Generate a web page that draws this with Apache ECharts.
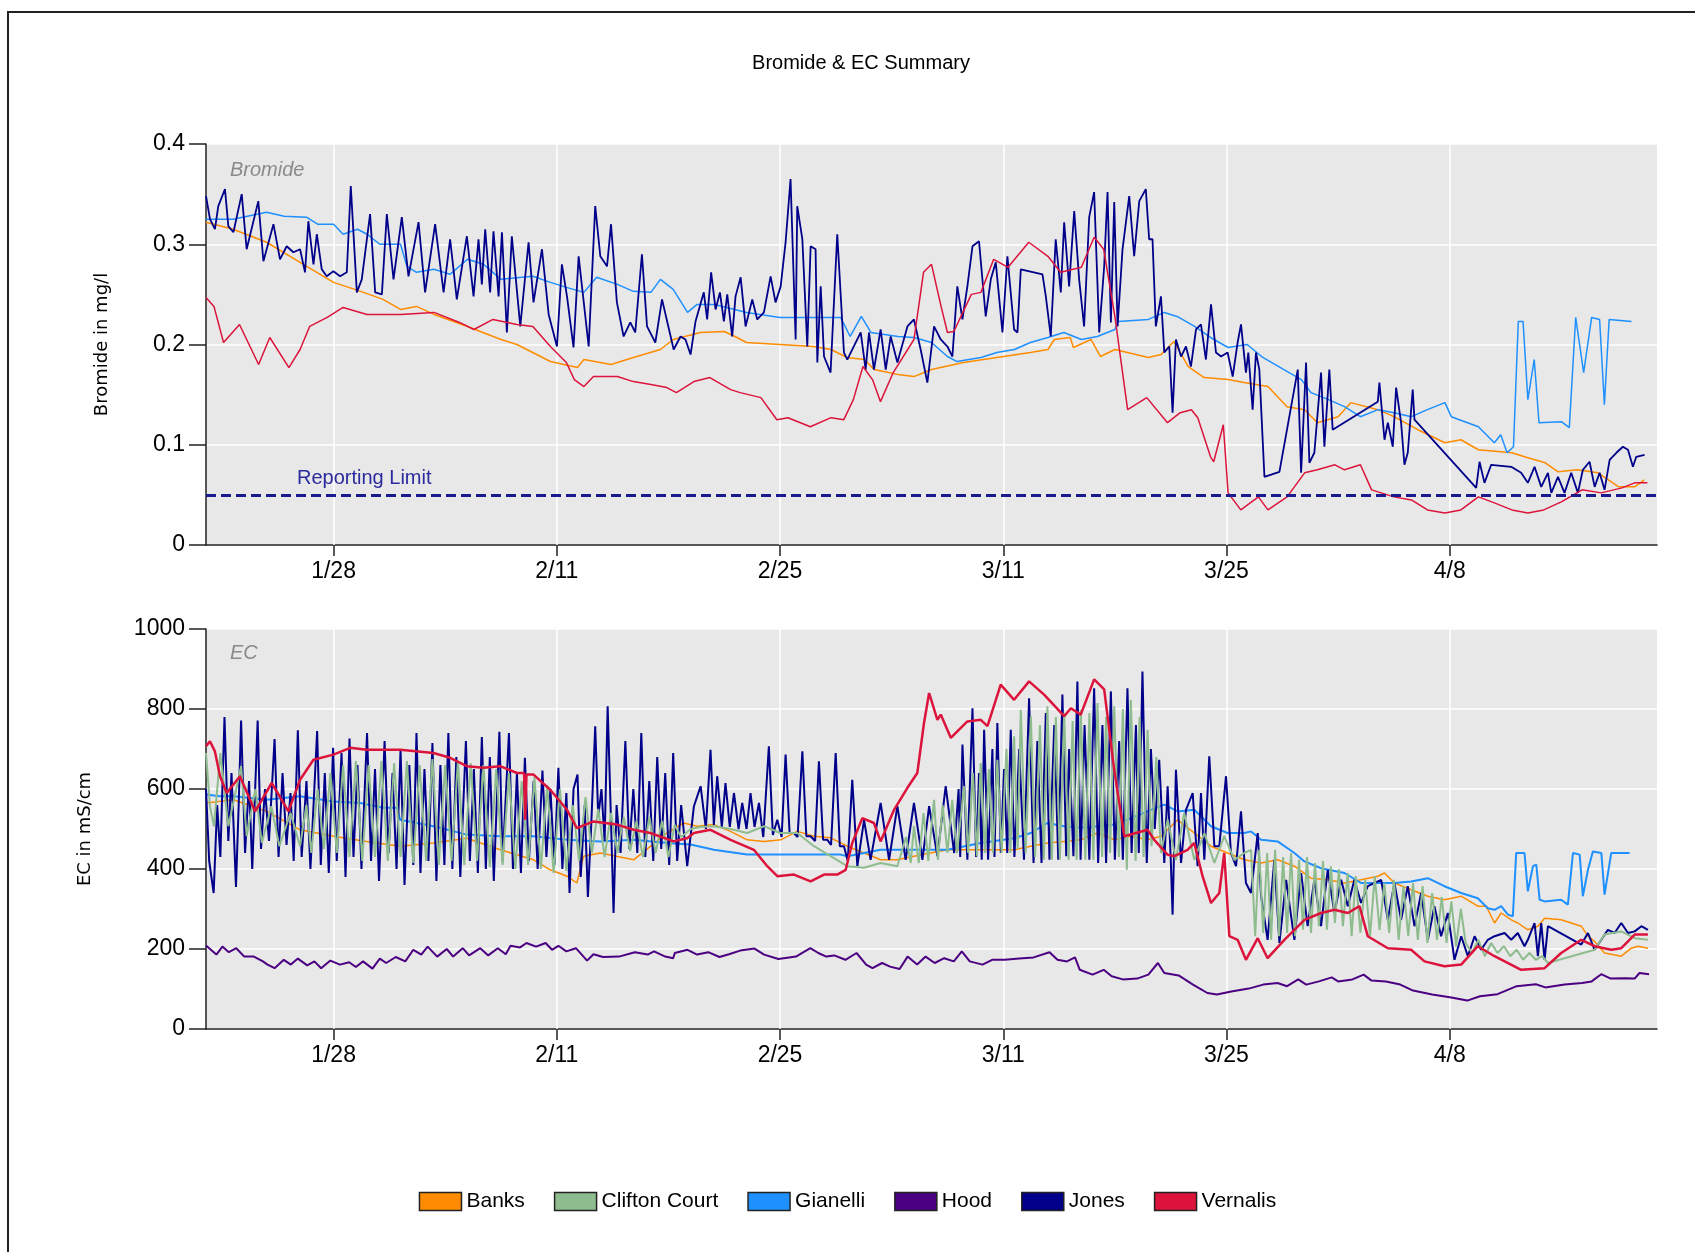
<!DOCTYPE html>
<html>
<head>
<meta charset="utf-8">
<title>Bromide & EC Summary</title>
<script src="https://cdn.jsdelivr.net/npm/echarts@6.0.0/dist/echarts.min.js"></script>
<style>
  html, body { margin: 0; padding: 0; background: #fff; }
  #chart { width: 1695px; height: 1252px; }
</style>
</head>
<body>
<div id="chart"></div>
<script>
const tickDays = [8, 22, 36, 50, 64, 78]
const tickLabels = ['1/28', '2/11', '2/25', '3/11', '3/25', '4/8']
const seriesNames = ['Banks', 'Clifton Court', 'Gianelli', 'Hood', 'Jones', 'Vernalis']
const reportingLimit = 0.05

// ---- Bromide (mg/l) ----
const banksBr = [[0,0.322],[1.7,0.315],[3.8,0.302],[5.9,0.282],[8.0,0.262],[9.7,0.253],[11.1,0.245],[12.2,0.235],[13.2,0.238],[14.3,0.23],[16.4,0.218],[18.5,0.205],[19.5,0.2],[21.6,0.183],[23.3,0.177],[23.7,0.185],[25.4,0.18],[26.8,0.187],[28.5,0.195],[29.3,0.205],[31.0,0.212],[32.5,0.213],[33.3,0.207],[33.9,0.202],[36.0,0.2],[38.1,0.198],[39.2,0.195],[40.2,0.187],[41.3,0.185],[41.9,0.175],[43.4,0.17],[44.4,0.168],[45.5,0.175],[47.5,0.182],[49.6,0.187],[51.7,0.192],[52.8,0.195],[53.2,0.205],[54.2,0.207],[54.4,0.197],[55.5,0.205],[56.1,0.188],[57.0,0.195],[59.1,0.187],[59.9,0.19],[60.7,0.203],[61.6,0.178],[62.6,0.167],[64.1,0.165],[65.1,0.162],[66.6,0.158],[67.8,0.138],[68.9,0.135],[69.7,0.122],[71.0,0.128],[71.8,0.142],[73.5,0.135],[74.5,0.128],[76.0,0.115],[77.7,0.102],[78.7,0.105],[79.8,0.095],[81.9,0.092],[82.9,0.087],[84.0,0.082],[84.8,0.073],[86.0,0.075],[87.3,0.072],[88.6,0.058],[89.6,0.058],[90.2,0.065]]

const gianelliBr = [[0,0.325],[1.7,0.325],[3.8,0.332],[4.9,0.328],[6.3,0.327],[7.0,0.32],[8.0,0.32],[8.6,0.31],[9.5,0.315],[10.1,0.31],[10.9,0.3],[12.2,0.3],[12.6,0.278],[13.2,0.272],[14.3,0.275],[15.3,0.27],[16.4,0.285],[17.4,0.28],[18.5,0.265],[20.5,0.268],[21.6,0.262],[22.6,0.257],[23.7,0.252],[24.5,0.267],[25.8,0.26],[26.8,0.253],[27.9,0.252],[28.5,0.265],[29.3,0.255],[30.2,0.232],[30.8,0.24],[31.9,0.24],[33.9,0.232],[36.0,0.227],[38.1,0.227],[39.8,0.227],[40.4,0.208],[41.1,0.228],[41.7,0.212],[43.4,0.208],[44.4,0.207],[45.5,0.202],[46.5,0.188],[47.1,0.183],[48.6,0.187],[49.6,0.192],[50.7,0.195],[51.7,0.202],[52.8,0.207],[53.8,0.212],[54.9,0.205],[55.9,0.208],[57.0,0.215],[57.2,0.223],[59.1,0.225],[60.1,0.232],[60.9,0.228],[62.0,0.218],[63.0,0.207],[64.1,0.197],[65.3,0.2],[66.2,0.188],[67.6,0.175],[68.7,0.165],[69.3,0.152],[70.4,0.145],[71.4,0.138],[72.4,0.128],[73.5,0.135],[74.5,0.132],[75.6,0.128],[76.6,0.135],[77.7,0.142],[78.1,0.128],[79.8,0.118],[80.8,0.102],[81.2,0.11],[81.6,0.092],[82.0,0.098],[82.3,0.223],[82.6,0.223],[82.9,0.145],[83.3,0.185],[83.6,0.122],[85.0,0.123],[85.5,0.117],[85.9,0.227],[86.4,0.172],[86.9,0.227],[87.4,0.225],[87.7,0.14],[88.0,0.225],[89.4,0.223]]

const vernalisBr = [[0,0.247],[0.5,0.238],[1.1,0.202],[2.1,0.22],[3.3,0.18],[4.0,0.207],[5.2,0.177],[5.9,0.195],[6.5,0.218],[7.6,0.227],[8.6,0.237],[10.1,0.23],[12.2,0.23],[14.3,0.232],[15.9,0.222],[16.8,0.215],[18.0,0.225],[19.5,0.22],[20.5,0.218],[21.6,0.198],[22.6,0.182],[23.1,0.165],[23.7,0.158],[24.3,0.168],[25.8,0.168],[26.8,0.163],[27.9,0.16],[28.9,0.157],[29.5,0.152],[30.6,0.163],[31.6,0.167],[32.9,0.155],[33.5,0.152],[34.8,0.147],[35.8,0.125],[36.5,0.127],[37.9,0.118],[39.2,0.127],[40.0,0.125],[40.6,0.145],[41.2,0.178],[41.8,0.165],[42.3,0.143],[43.1,0.172],[44.4,0.205],[45.0,0.272],[45.5,0.28],[46.1,0.238],[46.5,0.212],[46.9,0.213],[48.0,0.25],[48.6,0.252],[49.4,0.285],[50.3,0.277],[51.6,0.302],[52.8,0.288],[53.6,0.272],[54.9,0.277],[55.7,0.307],[56.3,0.295],[57.0,0.228],[57.8,0.135],[59.0,0.147],[60.3,0.122],[61.1,0.132],[61.8,0.135],[62.2,0.127],[63.0,0.088],[63.2,0.083],[63.8,0.12],[64.1,0.052],[64.9,0.035],[66.0,0.048],[66.6,0.035],[67.8,0.048],[68.9,0.072],[69.7,0.075],[70.8,0.08],[71.4,0.075],[72.4,0.08],[73.1,0.055],[74.5,0.048],[75.6,0.045],[76.6,0.035],[77.7,0.032],[78.7,0.035],[79.8,0.048],[80.8,0.042],[81.9,0.035],[82.9,0.032],[83.9,0.035],[85.0,0.043],[86.3,0.055],[87.5,0.052],[88.8,0.057],[89.6,0.062],[90.4,0.062]]

const jonesBr = [[0,0.348],[0.25,0.325],[0.56,0.315],[0.77,0.338],[1.19,0.355],[1.4,0.318],[1.72,0.312],[2.24,0.35],[2.55,0.295],[3.28,0.343],[3.6,0.283],[4.23,0.32],[4.64,0.285],[5.06,0.298],[5.48,0.292],[5.9,0.295],[6.21,0.272],[6.42,0.323],[6.74,0.28],[6.95,0.31],[7.26,0.275],[7.57,0.268],[7.99,0.273],[8.41,0.268],[8.83,0.272],[9.08,0.358],[9.46,0.252],[9.77,0.265],[10.29,0.33],[10.61,0.252],[11.03,0.25],[11.34,0.33],[11.76,0.265],[12.28,0.327],[12.7,0.268],[13.33,0.322],[13.74,0.252],[14.37,0.32],[14.9,0.252],[15.31,0.305],[15.73,0.245],[16.36,0.308],[16.78,0.248],[17.09,0.305],[17.3,0.26],[17.51,0.315],[17.82,0.252],[18.03,0.313],[18.35,0.248],[18.56,0.312],[18.87,0.212],[19.18,0.308],[19.71,0.218],[20.23,0.302],[20.54,0.242],[21.07,0.295],[21.49,0.23],[22.01,0.198],[22.32,0.28],[22.64,0.248],[23.05,0.197],[23.37,0.288],[24.0,0.198],[24.41,0.338],[24.73,0.288],[25.15,0.278],[25.4,0.32],[25.77,0.242],[26.19,0.208],[26.61,0.222],[26.92,0.212],[27.34,0.29],[27.66,0.218],[28.18,0.202],[28.6,0.245],[29.33,0.195],[29.76,0.208],[30.07,0.205],[30.39,0.19],[30.7,0.223],[31.22,0.252],[31.43,0.225],[31.68,0.272],[31.96,0.235],[32.23,0.252],[32.48,0.223],[32.69,0.25],[33.0,0.208],[33.21,0.248],[33.53,0.267],[33.84,0.218],[34.26,0.245],[34.57,0.225],[34.99,0.232],[35.41,0.268],[35.72,0.242],[36.04,0.258],[36.35,0.302],[36.66,0.365],[36.98,0.205],[37.08,0.338],[37.4,0.305],[37.71,0.198],[37.92,0.298],[38.23,0.295],[38.34,0.182],[38.55,0.258],[38.76,0.188],[39.17,0.172],[39.59,0.31],[40.01,0.192],[40.22,0.185],[41.06,0.212],[41.37,0.175],[41.58,0.212],[41.89,0.175],[42.31,0.215],[42.63,0.175],[42.94,0.208],[43.36,0.182],[43.99,0.218],[44.4,0.225],[44.82,0.195],[45.24,0.162],[45.66,0.218],[46.08,0.205],[46.5,0.198],[46.81,0.188],[47.12,0.258],[47.44,0.225],[47.75,0.258],[48.07,0.298],[48.48,0.303],[48.9,0.228],[49.22,0.265],[49.53,0.282],[49.95,0.212],[50.26,0.288],[50.68,0.215],[50.89,0.212],[51.1,0.275],[52.46,0.27],[52.67,0.248],[52.98,0.208],[53.29,0.305],[53.61,0.252],[53.82,0.322],[54.13,0.258],[54.45,0.333],[54.76,0.265],[55.07,0.218],[55.39,0.327],[55.7,0.352],[56.02,0.212],[56.33,0.278],[56.54,0.352],[56.75,0.222],[56.96,0.342],[57.17,0.218],[57.48,0.295],[57.9,0.348],[58.21,0.288],[58.53,0.343],[58.94,0.355],[59.15,0.305],[59.36,0.305],[59.57,0.218],[59.89,0.248],[60.1,0.192],[60.41,0.198],[60.62,0.132],[60.83,0.205],[61.15,0.188],[61.46,0.198],[61.77,0.178],[62.09,0.215],[62.4,0.22],[62.71,0.185],[63.03,0.24],[63.34,0.192],[63.66,0.188],[64.07,0.192],[64.39,0.168],[64.7,0.202],[64.91,0.22],[65.22,0.172],[65.37,0.192],[65.64,0.135],[65.85,0.192],[66.06,0.175],[66.38,0.068],[67.32,0.073],[68.47,0.175],[68.68,0.072],[68.99,0.182],[69.2,0.082],[69.51,0.092],[69.93,0.172],[70.14,0.098],[70.45,0.175],[70.66,0.115],[73.49,0.143],[73.59,0.162],[73.91,0.105],[74.12,0.122],[74.43,0.098],[74.64,0.157],[74.95,0.122],[75.16,0.08],[75.37,0.092],[75.68,0.155],[75.79,0.125],[79.66,0.057],[79.87,0.083],[80.18,0.062],[80.6,0.08],[81.86,0.078],[82.48,0.072],[82.9,0.062],[83.32,0.078],[83.74,0.058],[84.16,0.072],[84.37,0.052],[84.79,0.068],[85.2,0.052],[85.62,0.072],[86.04,0.052],[86.35,0.075],[86.77,0.083],[87.09,0.058],[87.4,0.072],[87.71,0.055],[88.03,0.085],[88.45,0.092],[88.86,0.098],[89.18,0.095],[89.49,0.078],[89.7,0.088],[90.22,0.09]]

// ---- EC (mS/cm) ----
const banksEc = [[0,565],[1.72,573],[3.81,544],[5.9,498],[7.99,482],[10.08,469],[12.18,457],[14.27,465],[16.36,477],[18.45,448],[20.54,423],[21.59,398],[22.64,382],[23.26,365],[23.68,432],[24.73,440],[26.82,423],[28.91,490],[29.96,515],[30.81,507],[31.85,511],[32.9,494],[33.94,473],[34.99,469],[36.04,473],[37.08,494],[38.13,482],[39.17,478],[40.22,457],[41.27,440],[42.31,423],[43.36,423],[44.4,432],[45.45,440],[46.5,448],[48.59,448],[50.68,448],[51.73,457],[52.77,465],[53.82,469],[54.86,473],[55.91,490],[56.96,473],[58.01,482],[59.05,473],[59.89,482],[60.94,523],[61.98,490],[63.03,457],[64.07,440],[65.12,423],[66.17,415],[67.21,423],[68.26,407],[69.3,377],[70.35,373],[71.4,365],[72.44,373],[73.49,382],[73.91,390],[74.53,365],[75.58,348],[76.63,332],[77.67,323],[78.72,332],[79.76,307],[80.29,307],[80.81,265],[81.23,290],[81.86,273],[82.27,265],[82.9,248],[83.53,257],[83.95,277],[84.99,273],[85.62,265],[86.25,257],[86.67,232],[87.09,219],[87.71,190],[88.76,182],[89.39,202],[89.81,207],[90.43,202]]

const cliftonEc = [[0,690],[0.25,557],[0.5,507],[0.9,690],[1.4,507],[2.2,657],[2.55,482],[3.1,600],[3.5,465],[4.1,557],[4.6,457],[5.3,540],[5.9,457],[6.3,560],[6.6,440],[7.0,600],[7.4,450],[7.8,640],[8.2,440],[8.6,660],[9.0,430],[9.4,670],[9.8,420],[10.2,660],[10.6,430],[11.0,670],[11.4,420],[11.8,665],[12.2,430],[12.6,670],[13.0,415],[13.4,660],[13.8,420],[14.2,675],[14.6,410],[15.0,660],[15.4,420],[15.8,670],[16.2,410],[16.6,665],[17.0,420],[17.4,660],[17.8,405],[18.2,650],[18.6,410],[19.0,640],[19.4,400],[19.8,620],[20.2,410],[20.6,630],[21.0,400],[21.4,610],[21.8,390],[22.2,600],[22.6,395],[23.0,560],[23.4,420],[23.8,580],[24.2,440],[24.6,550],[25.0,430],[25.4,540],[25.8,440],[26.2,530],[26.6,445],[27.0,520],[27.4,430],[27.8,530],[28.2,440],[28.6,520],[29.0,430],[29.4,510],[29.8,480],[30.4,500],[31.0,505],[31.85,507],[32.9,500],[33.94,490],[35.0,507],[36.0,490],[37.08,490],[38.13,457],[39.17,432],[40.22,407],[41.27,403],[42.31,415],[43.36,407],[43.9,480],[44.2,415],[44.4,507],[44.7,415],[45.0,540],[45.3,420],[45.66,573],[45.9,423],[46.2,560],[46.5,440],[46.8,573],[47.1,440],[47.54,607],[47.8,440],[48.1,640],[48.35,432],[48.59,665],[48.85,440],[49.1,650],[49.35,440],[49.63,673],[49.9,440],[50.2,700],[50.45,440],[50.68,732],[50.9,450],[51.1,798],[51.4,440],[51.73,782],[52.0,430],[52.3,760],[52.55,423],[52.77,807],[53.05,423],[53.3,780],[53.55,423],[53.82,790],[54.1,423],[54.35,770],[54.6,423],[54.86,798],[55.15,423],[55.4,790],[55.65,423],[55.91,815],[56.2,430],[56.45,780],[56.7,440],[56.96,807],[57.25,430],[57.5,800],[57.75,398],[58.0,823],[58.3,420],[58.55,780],[58.8,430],[59.05,748],[59.3,457],[59.6,680],[59.89,440],[60.31,523],[60.83,423],[61.35,540],[61.98,423],[62.61,490],[63.24,415],[63.86,482],[64.49,423],[65.12,440],[65.54,448],[65.8,232],[66.05,448],[66.3,240],[66.55,440],[66.8,223],[67.05,448],[67.3,232],[67.55,430],[67.8,240],[68.05,440],[68.3,232],[68.55,423],[68.8,248],[69.05,430],[69.3,240],[69.55,415],[69.8,257],[70.05,420],[70.3,248],[70.55,407],[70.8,265],[71.05,400],[71.3,257],[71.6,390],[71.85,232],[72.1,382],[72.4,240],[72.7,373],[73.0,232],[73.3,382],[73.6,248],[73.9,365],[74.2,240],[74.5,373],[74.8,223],[75.1,357],[75.4,232],[75.7,365],[76.0,223],[76.3,357],[76.6,215],[76.9,340],[77.2,223],[77.5,330],[77.8,215],[78.1,320],[78.4,207],[78.7,300],[79.0,215],[79.4,190],[79.8,223],[80.2,182],[80.6,215],[81.0,190],[81.4,207],[81.8,182],[82.2,198],[82.6,173],[83.0,190],[83.4,173],[83.8,182],[84.16,165],[87.09,198],[87.7,236],[88.76,244],[89.6,227],[90.43,223]]

const gianelliEc = [[0,586],[0.88,582],[1.72,582],[3.81,573],[5.9,582],[7.99,569],[9.67,565],[11.13,553],[11.97,553],[12.18,523],[14.27,507],[16.36,486],[18.45,482],[20.54,482],[22.64,473],[24.73,469],[26.82,473],[28.91,465],[30.39,461],[31.85,448],[33.94,436],[36.04,436],[38.13,436],[39.8,436],[40.22,432],[42.31,448],[44.4,448],[46.5,448],[48.59,465],[50.68,477],[51.73,490],[52.77,515],[53.82,507],[54.86,503],[55.91,507],[56.96,511],[58.01,527],[59.05,544],[60.1,561],[60.94,544],[61.98,548],[63.03,507],[64.07,490],[65.12,490],[65.54,494],[66.17,473],[67.21,469],[68.26,440],[68.89,419],[69.93,402],[71.4,390],[72.44,365],[73.49,365],[74.53,365],[75.58,369],[76.63,377],[77.67,357],[78.72,340],[79.76,327],[80.39,302],[80.81,298],[81.23,307],[81.65,286],[81.96,282],[82.17,440],[82.69,440],[82.9,344],[83.22,407],[83.43,411],[83.64,323],[83.95,319],[84.99,323],[85.41,311],[85.73,440],[86.15,436],[86.35,332],[86.67,398],[86.98,444],[87.51,440],[87.71,336],[88.13,440],[89.28,440]]

const hoodEc = [[0,209],[0.65,186],[1.03,206],[1.43,192],[1.9,202],[2.4,181],[3.0,181],[3.57,169],[3.86,161],[4.3,152],[4.88,173],[5.32,161],[5.76,176],[6.35,159],[6.8,169],[7.22,152],[7.8,171],[8.4,161],[8.98,167],[9.4,155],[9.85,169],[10.44,151],[10.9,176],[11.3,165],[11.9,180],[12.5,169],[13.0,198],[13.5,186],[13.9,206],[14.5,181],[15.1,200],[15.5,181],[16.1,202],[16.5,184],[17.2,202],[17.7,184],[18.3,202],[18.8,187],[19.1,208],[19.7,204],[20.1,215],[20.7,206],[21.3,215],[21.7,198],[22.1,208],[22.6,194],[23.2,202],[23.9,171],[24.3,187],[24.9,180],[25.9,181],[26.9,192],[27.7,186],[28.1,194],[28.8,181],[29.3,177],[29.4,190],[30.2,198],[30.8,186],[31.5,192],[32.2,180],[32.8,187],[33.5,196],[34.4,201],[35.0,186],[35.9,175],[37.0,181],[37.9,202],[38.4,190],[38.9,181],[39.4,184],[40.1,173],[40.8,190],[41.4,161],[41.8,152],[42.4,165],[42.9,156],[43.5,150],[44.0,181],[44.6,161],[45.13,181],[45.7,165],[46.3,177],[46.9,169],[47.4,194],[47.9,169],[48.7,161],[49.3,173],[50.1,173],[51.0,176],[51.9,179],[52.9,192],[53.4,173],[54.0,169],[54.5,179],[54.8,148],[55.6,136],[56.3,148],[56.8,132],[57.5,124],[58.4,126],[59.1,136],[59.7,165],[60.1,140],[61.0,134],[61.9,111],[62.8,90],[63.4,86],[64.3,94],[65.4,101],[66.3,111],[67.2,115],[67.8,107],[68.5,124],[69.0,111],[69.8,119],[70.6,129],[71.0,119],[71.9,124],[72.6,136],[73.1,121],[74.0,119],[74.9,111],[75.7,96],[76.9,86],[78.1,79],[79.1,71],[79.9,82],[81.0,87],[82.2,107],[83.4,112],[84.0,104],[85.2,111],[86.3,115],[86.9,119],[87.5,137],[88.1,126],[89.0,127],[89.6,126],[89.9,140],[90.5,137]]

const jonesEc = [[0,600],[0.2,420],[0.48,340],[0.7,560],[0.9,430],[1.16,780],[1.4,470],[1.6,640],[1.88,355],[2.05,560],[2.2,771],[2.45,440],[2.7,620],[2.9,400],[3.24,771],[3.45,450],[3.7,600],[3.95,470],[4.3,725],[4.55,430],[4.8,640],[5.05,460],[5.3,590],[5.5,420],[5.76,747],[6.0,430],[6.3,620],[6.55,400],[6.97,745],[7.2,410],[7.45,640],[7.7,390],[7.97,703],[8.2,420],[8.5,690],[8.75,380],[9.0,726],[9.25,430],[9.5,660],[9.75,400],[10.1,740],[10.35,420],[10.6,650],[10.85,370],[11.2,720],[11.45,440],[11.7,640],[11.95,400],[12.2,698],[12.45,360],[12.75,660],[13.0,410],[13.2,740],[13.45,390],[13.7,650],[13.95,420],[14.2,715],[14.45,370],[14.7,660],[14.95,410],[15.2,740],[15.45,400],[15.7,680],[15.95,380],[16.3,720],[16.55,420],[16.8,650],[17.05,390],[17.3,730],[17.55,400],[17.8,680],[18.05,370],[18.4,743],[18.6,420],[19.0,740],[19.25,400],[19.5,640],[19.75,390],[20.0,678],[20.25,420],[20.55,620],[20.8,400],[21.1,646],[21.35,430],[21.6,600],[21.85,410],[22.1,653],[22.35,400],[22.6,590],[22.8,340],[23.05,600],[23.3,636],[23.5,380],[23.75,560],[23.95,330],[24.15,500],[24.41,757],[24.6,530],[24.8,600],[25.0,470],[25.19,807],[25.4,520],[25.56,290],[25.75,560],[26.0,440],[26.3,720],[26.55,450],[26.8,600],[27.05,440],[27.3,740],[27.55,430],[27.8,620],[28.05,420],[28.3,680],[28.55,450],[28.8,640],[29.05,410],[29.3,690],[29.55,420],[29.8,560],[30.18,407],[30.6,557],[31.02,607],[31.35,500],[31.64,698],[31.85,510],[32.06,632],[32.35,505],[32.58,615],[32.85,505],[33.11,590],[33.4,500],[33.63,565],[33.9,500],[34.15,590],[34.4,505],[34.68,565],[34.95,480],[35.3,707],[35.55,485],[35.83,523],[36.1,480],[36.35,686],[36.6,490],[36.87,490],[37.1,480],[37.4,694],[37.65,482],[37.92,482],[38.2,470],[38.44,669],[38.7,473],[38.97,473],[39.2,460],[39.49,690],[39.75,457],[40.01,457],[40.25,420],[40.53,623],[40.85,407],[41.27,523],[41.68,423],[42.31,565],[42.84,423],[43.36,557],[43.88,423],[44.4,565],[44.93,423],[45.35,557],[45.87,432],[46.39,607],[46.92,440],[47.2,600],[47.3,430],[47.44,711],[47.75,423],[48.07,802],[48.3,430],[48.48,640],[48.65,423],[48.8,748],[49.05,423],[49.32,700],[49.45,430],[49.63,765],[49.85,440],[50.05,650],[50.25,440],[50.47,748],[50.7,430],[51.0,700],[51.3,423],[51.62,827],[51.9,415],[52.14,720],[52.4,415],[52.67,790],[52.9,423],[53.2,760],[53.45,423],[53.71,836],[53.95,432],[54.13,700],[54.4,432],[54.65,869],[54.85,423],[55.1,760],[55.4,423],[55.7,852],[55.95,415],[56.22,760],[56.45,415],[56.75,844],[57.0,423],[57.27,720],[57.5,423],[57.79,852],[58.05,440],[58.32,760],[58.5,440],[58.73,894],[59.0,415],[59.26,700],[59.5,500],[59.78,673],[60.1,415],[60.31,607],[60.5,430],[60.62,286],[60.83,648],[61.15,415],[61.46,548],[61.88,590],[62.19,407],[62.4,590],[62.61,423],[62.92,682],[63.24,457],[63.55,457],[63.97,632],[64.28,440],[64.6,407],[64.91,544],[65.22,365],[65.54,340],[65.96,490],[66.17,332],[66.58,223],[67.0,423],[67.32,215],[67.74,373],[68.26,223],[68.68,390],[69.09,257],[69.51,373],[69.93,257],[70.35,398],[70.77,290],[71.19,373],[71.61,307],[72.02,373],[72.44,315],[72.86,357],[73.7,373],[74.12,273],[74.53,365],[74.95,273],[75.37,357],[75.79,257],[76.21,340],[76.63,223],[77.04,307],[77.46,232],[77.88,290],[78.3,173],[78.72,232],[79.14,182],[79.56,232],[79.97,198],[80.39,223],[80.81,232],[81.44,240],[81.86,223],[82.27,240],[82.69,207],[82.9,223],[83.32,265],[83.53,182],[83.74,265],[83.95,173],[84.16,257],[86.25,211],[86.67,240],[87.09,198],[87.51,223],[87.92,248],[88.34,240],[88.76,265],[89.18,240],[89.6,244],[90.02,257],[90.43,248]]

const vernalisEc = [[0,707],[0.25,719],[0.56,694],[0.88,632],[1.3,590],[2.13,632],[3.08,544],[4.12,615],[5.17,544],[5.9,623],[6.74,673],[7.99,686],[9.04,703],[10.08,698],[12.18,698],[14.27,690],[15.31,678],[16.36,657],[17.41,653],[18.45,657],[19.5,640],[19.95,640],[20.02,523],[20.1,636],[20.54,636],[21.59,598],[22.64,548],[23.26,502],[24.31,519],[25.77,511],[26.82,498],[27.87,490],[29.33,469],[30.17,477],[30.6,490],[31.64,498],[32.9,473],[34.36,448],[35.2,407],[35.83,382],[36.87,386],[37.92,369],[38.76,386],[39.59,386],[40.12,398],[40.53,465],[41.16,527],[41.89,515],[42.31,469],[43.15,548],[43.99,603],[44.61,640],[45.03,765],[45.35,840],[45.87,773],[46.08,786],[46.71,728],[47.75,769],[48.59,773],[49.01,757],[49.84,861],[50.68,823],[51.62,869],[52.56,836],[53.82,782],[54.24,802],[54.86,786],[55.7,874],[56.33,849],[56.96,648],[57.59,482],[59.05,498],[59.47,473],[60.3,436],[60.73,432],[61.56,448],[61.98,465],[62.5,382],[63.03,315],[63.55,340],[63.86,440],[64.18,232],[64.7,223],[65.22,173],[65.96,227],[66.58,177],[67.63,223],[68.89,273],[69.93,290],[70.77,298],[71.61,290],[72.34,307],[72.86,232],[74.12,202],[75.58,198],[76.42,169],[77.67,157],[78.72,161],[79.76,207],[80.81,182],[82.48,148],[83.95,152],[84.99,190],[86.25,223],[87.09,207],[88.13,198],[88.76,202],[89.6,236],[90.43,236]]

const colors = {
  'Banks': '#FF8C00',
  'Clifton Court': '#8FBC8F',
  'Gianelli': '#1E90FF',
  'Hood': '#4B0082',
  'Jones': '#00008B',
  'Vernalis': '#DC143C'
}

const FONT = 'Liberation Sans'
const PLOT_BG = '#E8E8E8'
const grids = [
  { left: 206, top: 144, width: 1451, height: 401 },
  { left: 206, top: 629, width: 1451, height: 400 }
]

function makeXAxis(gridIndex) {
  return {
    type: 'value',
    gridIndex: gridIndex,
    min: 0,
    max: 91,
    axisLine: { show: true, lineStyle: { color: '#222', width: 1.5 } },
    axisTick: { show: true, length: 11, customValues: tickDays, lineStyle: { color: '#222', width: 1.5 } },
    axisLabel: {
      customValues: tickDays,
      margin: 15,
      fontSize: 23,
      fontFamily: FONT,
      color: '#000',
      formatter: v => tickLabels[tickDays.indexOf(v)] || ''
    },
    splitLine: { show: false }
  }
}

function makeYAxis(gridIndex, max, interval, name, nameGap) {
  return {
    type: 'value',
    gridIndex: gridIndex,
    min: 0,
    max: max,
    interval: interval,
    name: name,
    nameLocation: 'middle',
    nameRotate: 90,
    nameGap: nameGap,
    nameTextStyle: { fontFamily: 'DejaVu Sans', fontSize: 18, color: '#000' },
    axisLine: { show: true, lineStyle: { color: '#222', width: 1.5 } },
    axisTick: { show: true, length: 17, lineStyle: { color: '#222', width: 1.5 } },
    axisLabel: {
      margin: 21,
      fontSize: 23,
      fontFamily: FONT,
      color: '#000',
      formatter: v => String(+v.toFixed(2))
    },
    splitLine: { show: true, lineStyle: { color: '#FFFFFF', width: 1.5 } }
  }
}

function line(name, data, idx, width) {
  return {
    name: name,
    type: 'line',
    xAxisIndex: idx,
    yAxisIndex: idx,
    data: data,
    showSymbol: false,
    symbol: 'none',
    color: colors[name],
    lineStyle: { color: colors[name], width: width },
    z: 3
  }
}

// vertical white grid lines at the date ticks
function vGrid(idx) {
  return {
    type: 'line',
    xAxisIndex: idx,
    yAxisIndex: idx,
    data: [],
    silent: true,
    z: 1,
    markLine: {
      silent: true,
      symbol: 'none',
      z: 1,
      label: { show: false },
      lineStyle: { color: '#FFFFFF', width: 1.5, type: 'solid' },
      data: tickDays.map(d => ({ xAxis: d }))
    }
  }
}

const series = [
  vGrid(0),
  vGrid(1),
  line('Banks', banksBr, 0, 1.5),
  line('Gianelli', gianelliBr, 0, 1.5),
  line('Jones', jonesBr, 0, 1.8),
  line('Vernalis', vernalisBr, 0, 1.5),
  {
    type: 'line',
    xAxisIndex: 0,
    yAxisIndex: 0,
    data: [],
    silent: true,
    markLine: {
      silent: true,
      symbol: 'none',
      lineStyle: { color: '#1a1a8f', width: 3, type: [10, 5] },
      label: {
        show: true,
        position: 'insideStartTop',
        formatter: 'Reporting Limit',
        distance: [91, 6],
        color: '#2a2a9e',
        fontSize: 20,
        fontFamily: FONT
      },
      data: [{ yAxis: reportingLimit }]
    }
  },
  line('Hood', hoodEc, 1, 2),
  line('Banks', banksEc, 1, 1.5),
  line('Gianelli', gianelliEc, 1, 2),
  line('Jones', jonesEc, 1, 2),
  line('Clifton Court', cliftonEc, 1, 2),
  line('Vernalis', vernalisEc, 1, 2.5)
]

const chart = echarts.init(document.getElementById('chart'), null, { renderer: 'canvas' })

chart.setOption({
  animation: false,
  backgroundColor: '#FFFFFF',
  title: {
    text: 'Bromide & EC Summary',
    left: 856,
    top: 48,
    textAlign: 'center',
    textStyle: { fontFamily: FONT, fontSize: 20, fontWeight: 'normal', color: '#000' }
  },
  legend: {
    data: seriesNames,
    top: 1186,
    left: 'center',
    icon: 'rect',
    itemWidth: 42,
    itemHeight: 18,
    itemGap: 29,
    itemStyle: { borderColor: '#222', borderWidth: 1.5 },
    textStyle: { fontFamily: FONT, fontSize: 21, color: '#000' }
  },
  grid: grids.map(g => Object.assign({ show: true, backgroundColor: PLOT_BG, borderWidth: 0, containLabel: false }, g)),
  xAxis: [makeXAxis(0), makeXAxis(1)],
  yAxis: [
    makeYAxis(0, 0.4, 0.1, 'Bromide in mg/l', 95),
    makeYAxis(1, 1000, 200, 'EC in mS/cm', 112)
  ],
  graphic: [
    {
      type: 'rect',
      silent: true,
      shape: { x: 8, y: 12, width: 1800, height: 1400 },
      style: { fill: 'none', stroke: '#222', lineWidth: 2 }
    },
    {
      type: 'text',
      silent: true,
      left: grids[0].left + 24,
      top: grids[0].top + 16,
      style: { text: 'Bromide', fontFamily: FONT, fontSize: 20, fontStyle: 'italic', fill: '#8a8a8a' }
    },
    {
      type: 'text',
      silent: true,
      left: grids[1].left + 24,
      top: grids[1].top + 14,
      style: { text: 'EC', fontFamily: FONT, fontSize: 20, fontStyle: 'italic', fill: '#8a8a8a' }
    }
  ],
  series: series
})
</script>
</body>
</html>
